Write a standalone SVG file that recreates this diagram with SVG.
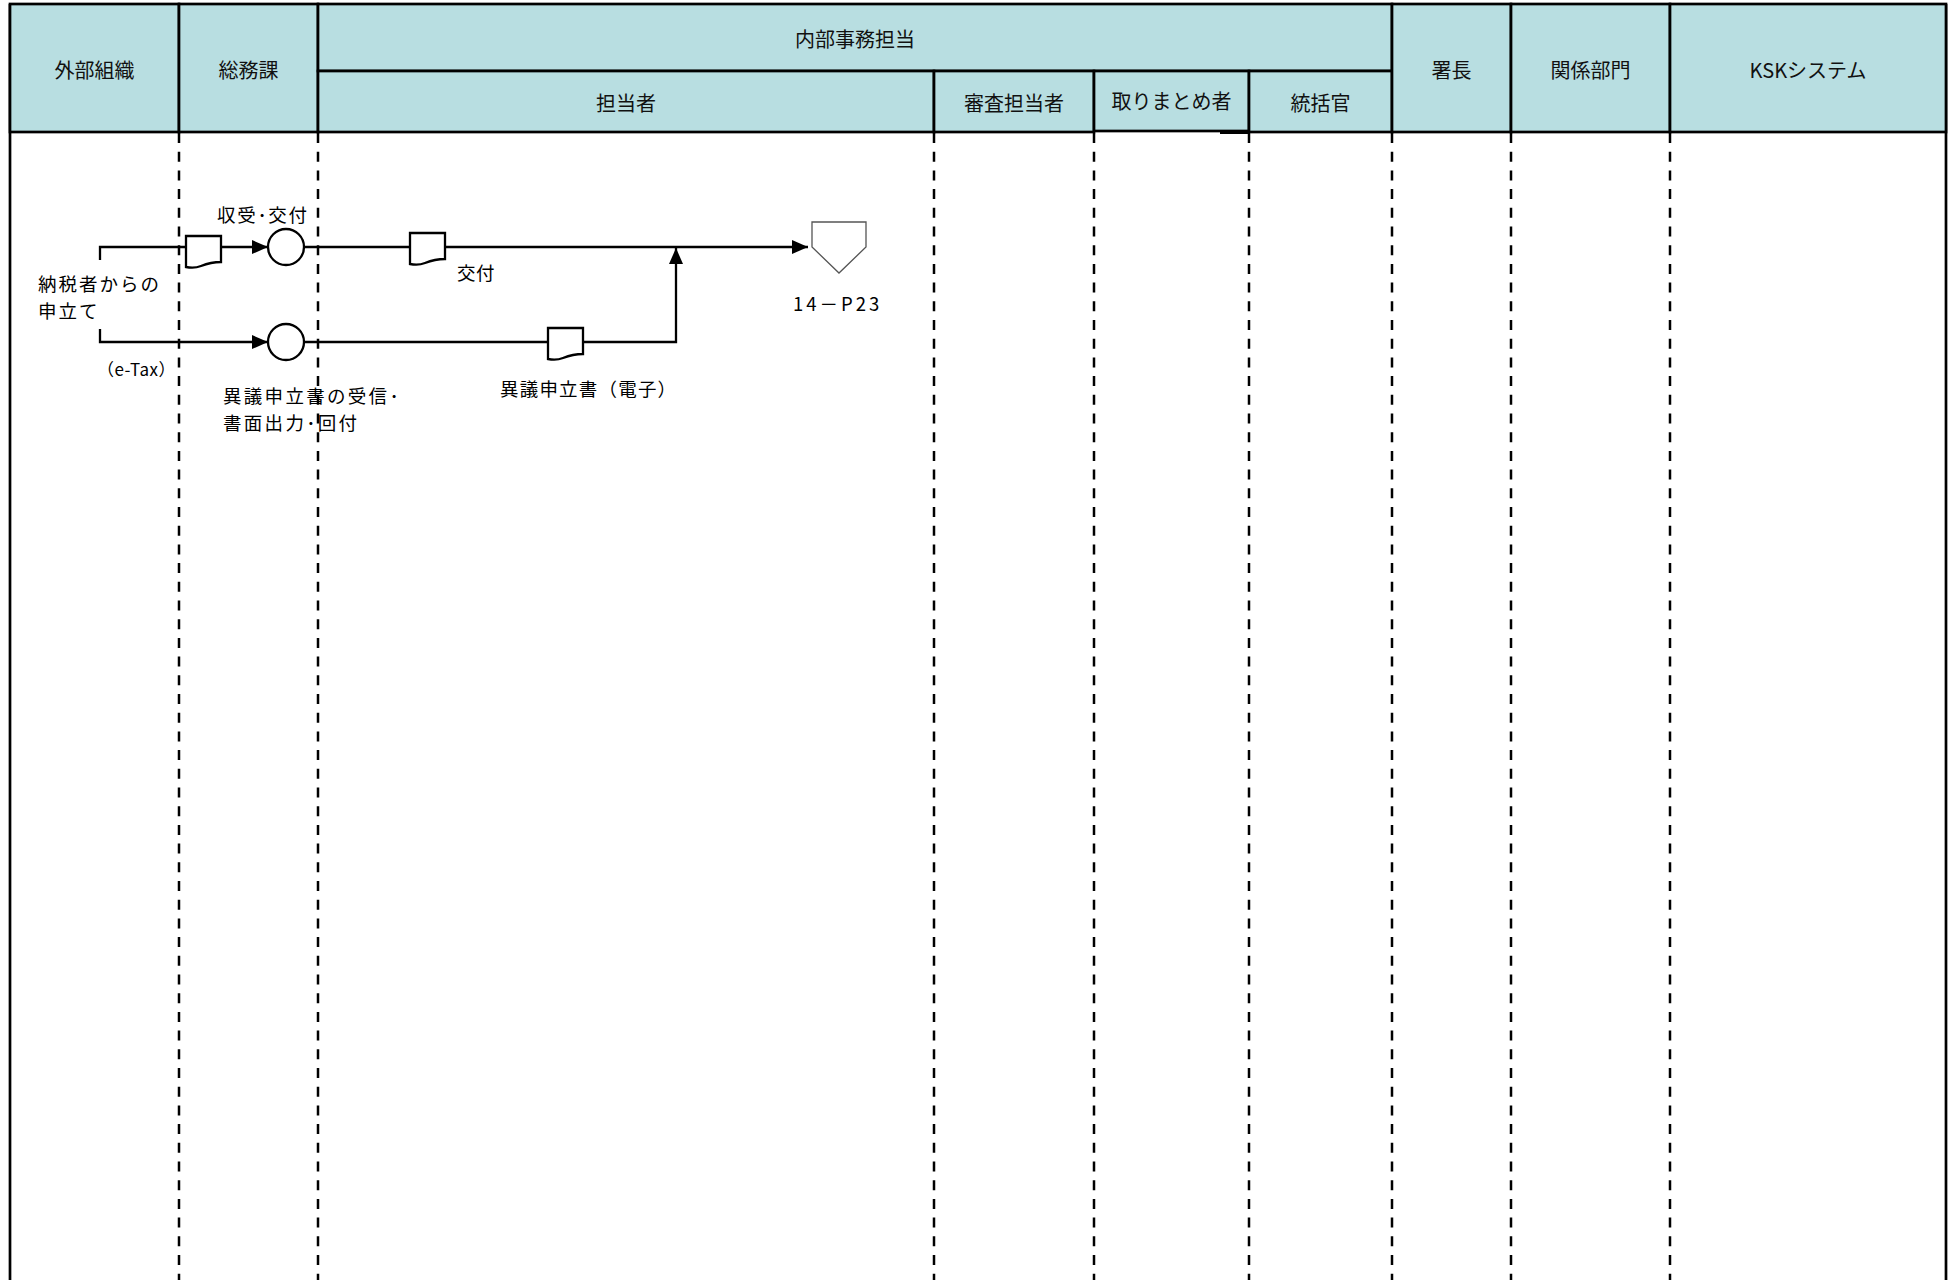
<svg xmlns="http://www.w3.org/2000/svg" width="1959" height="1280" viewBox="0 0 1959 1280">
<style>
.hdr{fill:#B8DEE1;stroke:#000;stroke-width:2.7}
.lane{stroke:#000;stroke-width:2.5;stroke-dasharray:10 8.7;fill:none}
.border{stroke:#000;stroke-width:2.7;fill:none}
.ht{font-family:"Noto Sans CJK JP","Noto Sans CJK SC",sans-serif;font-size:20px;fill:#111;text-anchor:middle;dominant-baseline:central}
.t{font-family:"Noto Sans CJK JP","Noto Sans CJK SC",sans-serif;font-size:18.5px;fill:#000;dominant-baseline:central;letter-spacing:2px}
.flow{stroke:#000;stroke-width:2.3;fill:none}
.shape{stroke:#000;stroke-width:2.3;fill:#fff}
.off{stroke:#555;stroke-width:1.3;fill:#fff}
</style>
<defs>
<marker id="arr" markerUnits="userSpaceOnUse" markerWidth="16" markerHeight="14" refX="16" refY="7" orient="auto">
<path d="M0,0 L16,7 L0,14 Z" fill="#000"/>
</marker>
<path id="doc" d="M0,0 H35 V26 C27,26 20,28 15,30 C10,32 5,32 0,31 Z"/>
</defs>
<rect width="1959" height="1280" fill="#fff"/>

<g id="lanes">
<line class="border" x1="10" y1="4" x2="10" y2="1280"/>
<line class="border" x1="1946" y1="4" x2="1946" y2="1280"/>
<line class="lane" x1="179" y1="133" x2="179" y2="1280"/>
<line class="lane" x1="318" y1="133" x2="318" y2="1280"/>
<line class="lane" x1="934" y1="133" x2="934" y2="1280"/>
<line class="lane" x1="1094" y1="133" x2="1094" y2="1280"/>
<line class="lane" x1="1249" y1="133" x2="1249" y2="1280"/>
<line class="lane" x1="1392" y1="133" x2="1392" y2="1280"/>
<line class="lane" x1="1511" y1="133" x2="1511" y2="1280"/>
<line class="lane" x1="1670" y1="133" x2="1670" y2="1280"/>
</g>

<g id="header">
<g id="h-gaibu"><rect class="hdr" x="10" y="4" width="169" height="128"/><text class="ht" x="94.5" y="69">外部組織</text></g>
<g id="h-somu"><rect class="hdr" x="179" y="4" width="139" height="128"/><text class="ht" x="248.5" y="69">総務課</text></g>
<g id="h-naibu"><rect class="hdr" x="318" y="4" width="1074" height="67"/><text class="ht" x="855" y="38">内部事務担当</text></g>
<g id="h-tanto"><rect class="hdr" x="318" y="71" width="616" height="61"/><text class="ht" x="626" y="102">担当者</text></g>
<g id="h-shinsa"><rect class="hdr" x="934" y="71" width="160" height="61"/><text class="ht" x="1014" y="102">審査担当者</text></g>
<g id="h-torimatome"><rect class="hdr" x="1094" y="71" width="155" height="60"/><text class="ht" x="1171.5" y="100">取りまとめ者</text></g>
<g id="h-tokatsu"><rect class="hdr" x="1249" y="71" width="143" height="61"/><text class="ht" x="1320.5" y="102">統括官</text></g>
<g id="h-shocho"><rect class="hdr" x="1392" y="4" width="119" height="128"/><text class="ht" x="1451.5" y="69">署長</text></g>
<g id="h-kankei"><rect class="hdr" x="1511" y="4" width="159" height="128"/><text class="ht" x="1590.5" y="69">関係部門</text></g>
<g id="h-ksk"><rect class="hdr" x="1670" y="4" width="276" height="128"/><text class="ht" x="1808" y="69">KSKシステム</text></g>
<line x1="1220" y1="132.5" x2="1249" y2="132.5" stroke="#000" stroke-width="3"/>
</g>

<g id="connectors">
<path class="flow" d="M100,260 V247 H186"/>
<path class="flow" d="M221,247 H268" marker-end="url(#arr)"/>
<path class="flow" d="M304,247 H410"/>
<path class="flow" d="M445,247 H808" marker-end="url(#arr)"/>
<path class="flow" d="M100,329 V342 H268" marker-end="url(#arr)"/>
<path class="flow" d="M304,342 H548"/>
<path class="flow" d="M583,342 H676 V248" marker-end="url(#arr)"/>
</g>

<g id="n-source">
<text class="t" x="38" y="283">納税者からの</text>
<text class="t" x="38" y="310">申立て</text>
<text class="t" x="97" y="368" style="font-size:17px;letter-spacing:0.5px">（e-Tax）</text>
</g>
<g id="n-doc1"><use href="#doc" class="shape" transform="translate(186,236)"/></g>
<g id="n-receive1">
<circle class="shape" cx="286" cy="247" r="18"/>
<text class="t" x="217" y="214" style="letter-spacing:1.7px">収受･交付</text>
</g>
<g id="n-receive2">
<circle class="shape" cx="286" cy="342" r="18"/>
<text class="t" x="223" y="395" style="letter-spacing:2.3px">異議申立書の受信･</text>
<text class="t" x="223" y="422" style="letter-spacing:2.3px">書面出力･回付</text>
</g>
<g id="n-doc2">
<use href="#doc" class="shape" transform="translate(410,233)"/>
<text class="t" x="457" y="272" style="letter-spacing:0.5px">交付</text>
</g>
<g id="n-doc3">
<use href="#doc" class="shape" transform="translate(548,328)"/>
<text class="t" x="500" y="388" style="letter-spacing:1.2px">異議申立書（電子）</text>
</g>
<g id="n-offpage">
<path class="off" d="M812,222 H866 V247 L839,273 L812,247 Z"/>
<text class="t" x="793" y="303" style="letter-spacing:3px">14－P23</text>
</g>
</svg>
